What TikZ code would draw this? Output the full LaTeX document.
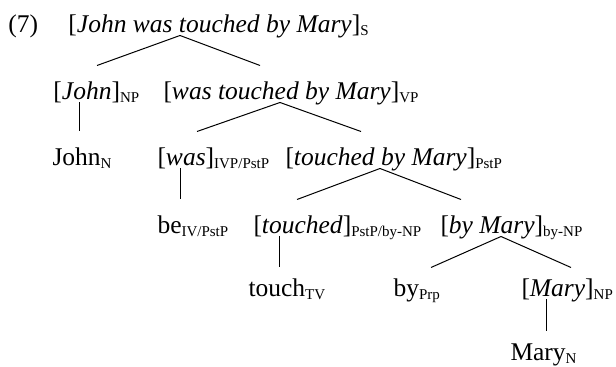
\documentclass[tikz,border=0pt]{standalone}
\usepackage{fontspec}
\setmainfont{Liberation Serif}
\usetikzlibrary{positioning}

\newcommand{\catsub}[1]{\raisebox{-1.3pt}{\fontsize{7.5}{9}\selectfont #1}}

\begin{document}
\begin{tikzpicture}[x=0.5pt, y=-0.5pt, font=\fontsize{12.75}{15}\selectfont, line width=0.5pt]
	\useasboundingbox (0, 0) rectangle (616, 367);
	\begin{scope}
		\tikzstyle{every node}=[anchor=base west, inner sep=0pt, text height=17pt, text depth=1pt]
		\tikzstyle{low}=[text height=14.5pt]
		\node (ex) at (8, 33) {(7)};
		\node (s) at (68, 33) {[\textit{John was touched by Mary}]\catsub{S}};

		\node (np) at (53, 100) {[\textit{John}]\catsub{NP}};
		\node (vp) at (163, 100) {[\textit{was touched by Mary}]\catsub{VP}};

		\node (johnn) at (52, 166) {John\catsub{N}};
		\node (was) at (157, 166) {[\textit{was}]\catsub{IVP/PstP}};
		\node (pstp) at (285, 166) {[\textit{touched by Mary}]\catsub{PstP}};

		\node (be) at (157, 234) {be\catsub{IV/PstP}};
		\node (touched) at (253, 234) {[\textit{touched}]\catsub{PstP/by-NP}};
		\node (bynp) at (440, 234) {[\textit{by Mary}]\catsub{by-NP}};

		\node[low] (touch) at (248, 297) {touch\catsub{TV}};
		\node[low] (by) at (393, 297) {by\catsub{Prp}};
		\node[low] (marynp) at (521, 297) {[\textit{Mary}]\catsub{NP}};

		\node[low] (maryn) at (510, 361) {Mary\catsub{N}};

		\draw [] ([xshift=56pt]s.south west) to ([xshift=22pt]np.north west);
		\draw [] ([xshift=56pt]s.south west) to ([xshift=48.5pt]vp.north west);
		\draw [] ([xshift=13pt]np.south west) to ([xshift=13.5pt]johnn.north west);

		\draw [] ([xshift=58.5pt]vp.south west) to ([xshift=20pt]was.north west);
		\draw [] ([xshift=58.5pt]vp.south west) to ([xshift=38pt]pstp.north west);
		\draw [] ([xshift=11.5pt]was.south west) to ([xshift=11.5pt]be.north west);

		\draw [] ([xshift=47.5pt]pstp.south west) to ([xshift=22pt]touched.north west);
		\draw [] ([xshift=47.5pt]pstp.south west) to ([xshift=10.5pt]bynp.north west);
		\draw [] ([xshift=13pt]touched.south west) to ([xshift=15.5pt]touch.north west);

		\draw [] ([xshift=30.5pt]bynp.south west) to ([xshift=19pt]by.north west);
		\draw [] ([xshift=30.5pt]bynp.south west) to ([xshift=25pt]marynp.north west);
		\draw [] ([xshift=12.5pt]marynp.south west) to ([xshift=18pt]maryn.north west);
	\end{scope}
\end{tikzpicture}
\end{document}
